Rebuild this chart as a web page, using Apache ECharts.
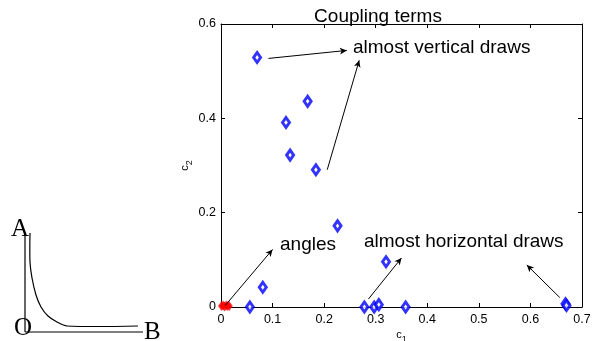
<!DOCTYPE html>
<html lang="en">
<head>
    <meta charset="UTF-8">
    <title>Coupling terms</title>
    <script src="https://cdn.jsdelivr.net/npm/echarts@6/dist/echarts.min.js"></script>
    <style>html,body{margin:0;padding:0;background:#fff;}</style>
</head>
<body>
<div id="main" style="width: 592px;height:341px;"></div>
<script>
    // data
    var drawsC1 = [0.070, 0.168, 0.126, 0.134, 0.184, 0.226, 0.320, 0.081, 0.056, 0.278, 0.297, 0.306, 0.358, 0.668, 0.670];
    var drawsC2 = [0.529, 0.436, 0.391, 0.322, 0.291, 0.172, 0.096, 0.042, 0.000, 0.000, 0.000, 0.005, 0.000, 0.007, 0.003];
    var anglesC1 = [0.001, 0.004, 0.007, 0.010, 0.013, 0.016];
    var anglesC2 = [0.002, 0.003, 0.001, 0.003, 0.002, 0.002];
    var xTicks = [0, 0.1, 0.2, 0.3, 0.4, 0.5, 0.6, 0.7];
    var yTicks = [0, 0.2, 0.4, 0.6];
    // annotation arrows, [from, to] in data units
    var arrows = [
        [[0.092, 0.527], [0.244, 0.544]],
        [[0.206, 0.291], [0.268, 0.523]],
        [[0.008, 0.003], [0.100, 0.122]],
        [[0.286, 0.017], [0.350, 0.104]],
        [[0.657, 0.020], [0.593, 0.089]]
    ];

    var myChart = echarts.init(document.getElementById('main'));
    var font = 'Liberation Sans, Arial, sans-serif';
    var serif = 'Liberation Serif, Times New Roman, serif';

    var drawsData = [];
    for (var i = 0; i < drawsC1.length; i++) drawsData.push([drawsC1[i], drawsC2[i]]);
    var anglesData = [];
    for (var j = 0; j < anglesC1.length; j++) anglesData.push([anglesC1[j], anglesC2[j]]);
    var arrowData = arrows.map(function (a) {
        return [{coord: a[0]}, {coord: a[1]}];
    });

    var axisCommon = {
        axisLine: {show: true, onZero: false, lineStyle: {color: '#000', width: 1}},
        axisTick: {show: true, inside: true, length: 4, lineStyle: {color: '#000'}},
        splitLine: {show: false}
    };
    var subRich = {
        a: {fontFamily: font, fontSize: 11, color: '#000'},
        b: {fontFamily: font, fontSize: 9, color: '#000', verticalAlign: 'bottom', padding: [9, 0, 0, 0]}
    };

    var option = {
        animation: false,
        title: {
            text: 'Coupling terms',
            left: 373, top: 2, textAlign: 'center',
            textStyle: {fontFamily: font, fontSize: 19, fontWeight: 'normal', color: '#000'}
        },
        grid: {left: 221, right: 10, top: 24, bottom: 34, outerBoundsMode: 'none', containLabel: false},
        xAxis: [
            Object.assign({
                type: 'value', min: xTicks[0], max: xTicks[xTicks.length - 1], interval: 0.1,
                position: 'bottom',
                name: '{a|c}{b|1}', nameLocation: 'middle', nameGap: 19, nameMoveOverlap: false,
                nameTextStyle: {rich: subRich},
                axisLabel: {fontFamily: font, fontSize: 12.5, color: '#000', margin: 6}
            }, axisCommon),
            Object.assign({
                type: 'value', min: 0, max: 0.7, interval: 0.1, position: 'top',
                axisLabel: {show: false}
            }, axisCommon)
        ],
        yAxis: [
            Object.assign({
                type: 'value', min: yTicks[0], max: yTicks[yTicks.length - 1], interval: 0.2,
                position: 'left',
                name: '{a|c}{b|2}', nameLocation: 'middle', nameGap: 27, nameRotate: 90, nameMoveOverlap: false,
                nameTextStyle: {rich: subRich, padding: [0, 0, 0, 0]},
                axisLabel: {fontFamily: font, fontSize: 12.5, color: '#000', margin: 5}
            }, axisCommon),
            Object.assign({
                type: 'value', min: 0, max: 0.6, interval: 0.2, position: 'right',
                axisLabel: {show: false}
            }, axisCommon)
        ],
        series: [
            {
                type: 'scatter',
                data: drawsData,
                symbol: 'diamond',
                symbolSize: [7, 10],
                itemStyle: {color: '#fff', borderColor: '#0000ff', borderWidth: 3},
                z: 3,
                markLine: {
                    silent: true,
                    symbol: ['none', 'arrow'],
                    symbolSize: [5, 7],
                    label: {show: false},
                    lineStyle: {color: '#000', width: 1, type: 'solid'},
                    emphasis: {disabled: true},
                    data: arrowData
                }
            },
            {
                type: 'scatter',
                data: anglesData,
                symbol: 'diamond',
                symbolSize: [7, 10],
                itemStyle: {color: '#ff0000'},
                z: 4
            }
        ],
        graphic: [
            {type: 'text', left: 353, top: 38, style: {text: 'almost vertical draws', font: '19px ' + font, fill: '#000'}},
            {type: 'text', left: 280, top: 235, style: {text: 'angles', font: '19px ' + font, fill: '#000'}},
            {type: 'text', left: 364, top: 232, style: {text: 'almost horizontal draws', font: '19px ' + font, fill: '#000'}},
            // left sketch
            {type: 'line', shape: {x1: 25, y1: 232, x2: 25, y2: 332}, style: {stroke: '#000', lineWidth: 1.2}},
            {type: 'line', shape: {x1: 25, y1: 332, x2: 143, y2: 332}, style: {stroke: '#000', lineWidth: 1.2}},
            {type: 'polyline', shape: {points: [[30, 233], [30, 262], [32, 278], [36, 295], [41, 307], [48, 316], [57, 322], [67, 326], [138, 326]], smooth: 0.3},
                style: {stroke: '#000', lineWidth: 1.2, fill: null}},
            {type: 'text', left: 11, top: 217, style: {text: 'A', font: '25px ' + serif, fill: '#000'}},
            {type: 'text', left: 14, top: 316, style: {text: 'O', font: '25px ' + serif, fill: '#000'}},
            {type: 'text', left: 144, top: 320, style: {text: 'B', font: '25px ' + serif, fill: '#000'}}
        ]
    };

    myChart.setOption(option);
</script>
</body>
</html>
